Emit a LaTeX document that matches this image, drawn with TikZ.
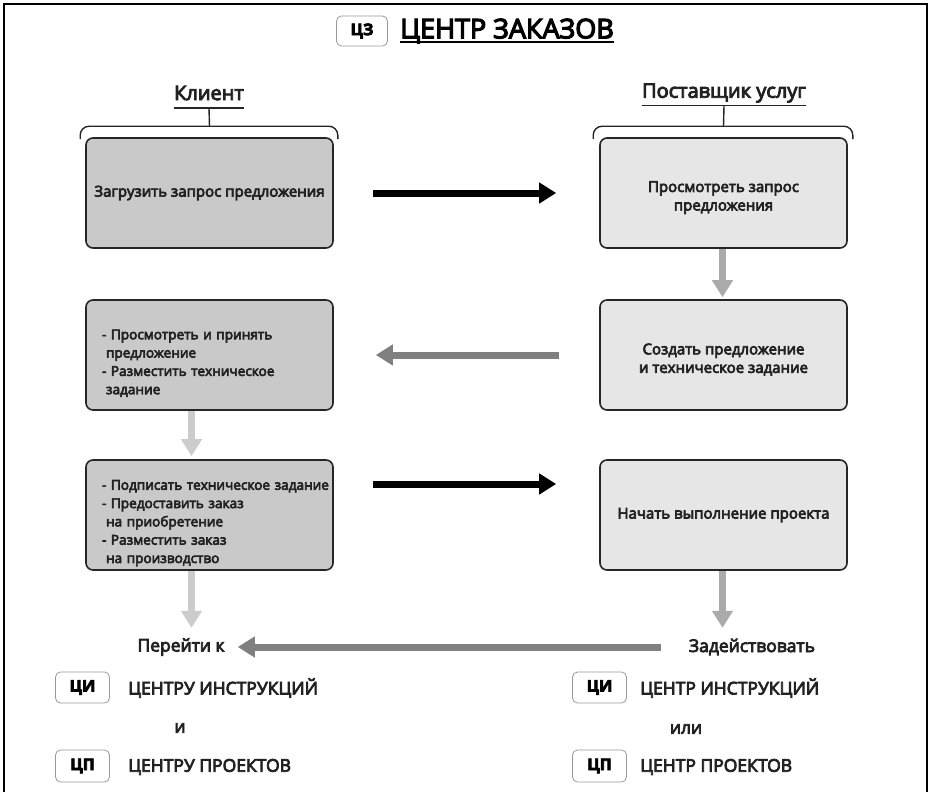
\documentclass[tikz,border=0pt]{standalone}
\usepackage{fontspec}
\setmainfont{Open Sans}[FakeBold=4.5]
\usetikzlibrary{arrows.meta,calc}
\definecolor{txt}{HTML}{222222}
\definecolor{cfill}{HTML}{C9C9C9}
\definecolor{sfill}{HTML}{E6E6E6}
\definecolor{garrow}{HTML}{808080}
\definecolor{marrow}{HTML}{AAAAAA}
\definecolor{larrow}{HTML}{CCCCCC}
\newcommand\topgap[1]{\rule{0pt}{#1}}
\begin{document}
\begin{tikzpicture}[x=1pt,y=-1pt,
  box/.style={draw=black!85, line width=1.6pt, rounded corners=7pt, minimum width=247pt, minimum height=110pt, text=txt, align=center, inner sep=0pt, font=\fontsize{15}{18.5}\selectfont},
  cbox/.style={box, fill=cfill},
  sbox/.style={box, fill=sfill},
  listbox/.style={cbox, align=left, text width=215pt, inner xsep=16pt, font=\fontsize{13.6}{18.3}\selectfont},
  badge/.style={draw=black!40, line width=0.8pt, rounded corners=5pt, minimum width=54pt, minimum height=31pt, inner sep=0pt, text=black, font=\fontsize{16}{16}\selectfont\bfseries},
  role/.style={inner sep=0pt, text=txt, font=\fontsize{20}{20}\selectfont},
  btext/.style={inner sep=0pt, text=txt, font=\fontsize{17.5}{17.5}\selectfont},
  fat/.style={line width=7pt, -{Triangle[width=20pt,length=17pt]}},
  brace/.style={line width=1.4pt, rounded corners=9pt, draw=black!85},
  thin/.style={line width=1.4pt, draw=black!85}
]
\useasboundingbox (0,0) rectangle (932,792);
% frame
\draw[line width=2pt] (4,792) -- (4,4) -- (927,4) -- (927,792);

% title
\node[badge, minimum width=51pt, minimum height=30pt] (tb) at (362,31) {ЦЗ};
\node[anchor=west, inner sep=0pt, text=black, font=\fontsize{27}{27}\selectfont] (title) at (400,31) {ЦЕНТР ЗАКАЗОВ};
\draw[line width=1.8pt] ($(title.base west)+(0,4)$) -- ($(title.base east)+(0,4)$);

% boxes
\node[cbox] (l1) at (209.5,193) {Загрузить запрос предложения};
\node[sbox] (r1) at (723.5,193) {\topgap{20pt}Просмотреть запрос\\предложения};
\node[listbox] (l2) at (209.5,355) {\topgap{26pt}- Просмотреть и принять\\\hspace*{4pt}предложение\\- Разместить техническое\\\hspace*{4pt}задание};
\node[sbox] (r2) at (723.5,355) {\topgap{20pt}Создать предложение\\и техническое задание};
\node[listbox] (l3) at (209.5,515) {\topgap{26pt}\mbox{- Подписать техническое задание}\\- Предоставить заказ\\\hspace*{4pt}на приобретение\\- Разместить заказ\\\hspace*{4pt}на производство};
\node[sbox] (r3) at (723.5,515) {Начать выполнение проекта};

% role labels
\node[role] (kl) at (209,93) {Клиент};
\node[role] (ps) at (724,93) {Поставщик услуг};
\draw[thin] ($(kl.base west)+(0,8)$) -- ($(kl.base east)+(0,8)$);
\draw[thin] ($(ps.base west)+(0,8)$) -- ($(ps.base east)+(0,8)$);
\draw[thin] ($(kl.base)+(0,8)$) -- ($(l1.north)+(0,-11)$);
\draw[thin] ($(ps.base)+(0,8)$) -- ($(r1.north)+(0,-11)$);
\draw[brace] ($(l1.north west)+(-5,2)$) -- ($(l1.north west)+(-5,-11)$) -- ($(l1.north east)+(4,-11)$) -- ($(l1.north east)+(4,2)$);
\draw[brace] ($(r1.north west)+(-6,2)$) -- ($(r1.north west)+(-6,-11)$) -- ($(r1.north east)+(5,-11)$) -- ($(r1.north east)+(5,2)$);

% arrows between boxes
\draw[fat, black] ($(l1.east)+(39,0)$) -- ($(r1.west)+(-43,0)$);
\draw[fat, garrow] ($(r2.west)+(-40,0)$) -- ($(l2.east)+(42,0)$);
\draw[fat, black] ($(l3.east)+(39,-31)$) -- ($(r3.west)+(-43,-31)$);
\draw[fat, marrow] ($(r1.south)+(-1,0)$) -- ($(r2.north)+(-1,-2)$);
\draw[fat, larrow] ($(l2.south)+(-18,0)$) -- ($(l3.north)+(-18,-3)$);

% bottom
\node[btext] (per) at (181,647) {Перейти к};
\node[btext] (zad) at (752,647) {Задействовать};
\draw[fat, larrow] ($(l3.south)+(-18,0)$) -- ($(l3.south)+(-18,57)$);
\draw[fat, marrow] ($(r3.south)+(-1,0)$) -- ($(r3.south)+(-1,57)$);
\draw[fat, garrow] ($(zad.west)+(-28,0)$) -- ($(per.east)+(13,0)$);

\node[badge] (ci1) at (82.5,687.5) {ЦИ};
\node[btext, anchor=west] (ci1t) at (128,688) {ЦЕНТРУ ИНСТРУКЦИЙ};
\node[btext] (and) at (180,728) {и};
\node[badge, minimum height=32pt] (cp1) at (82.5,766) {ЦП};
\node[btext, anchor=west] (cp1t) at (128,767) {ЦЕНТРУ ПРОЕКТОВ};

\node[badge] (ci2) at (599.5,687.5) {ЦИ};
\node[btext, anchor=west] (ci2t) at (640,688) {ЦЕНТР ИНСТРУКЦИЙ};
\node[btext] (or) at (686,729) {или};
\node[badge, minimum height=32pt] (cp2) at (599.5,766) {ЦП};
\node[btext, anchor=west] (cp2t) at (640,767) {ЦЕНТР ПРОЕКТОВ};
\end{tikzpicture}
\end{document}
